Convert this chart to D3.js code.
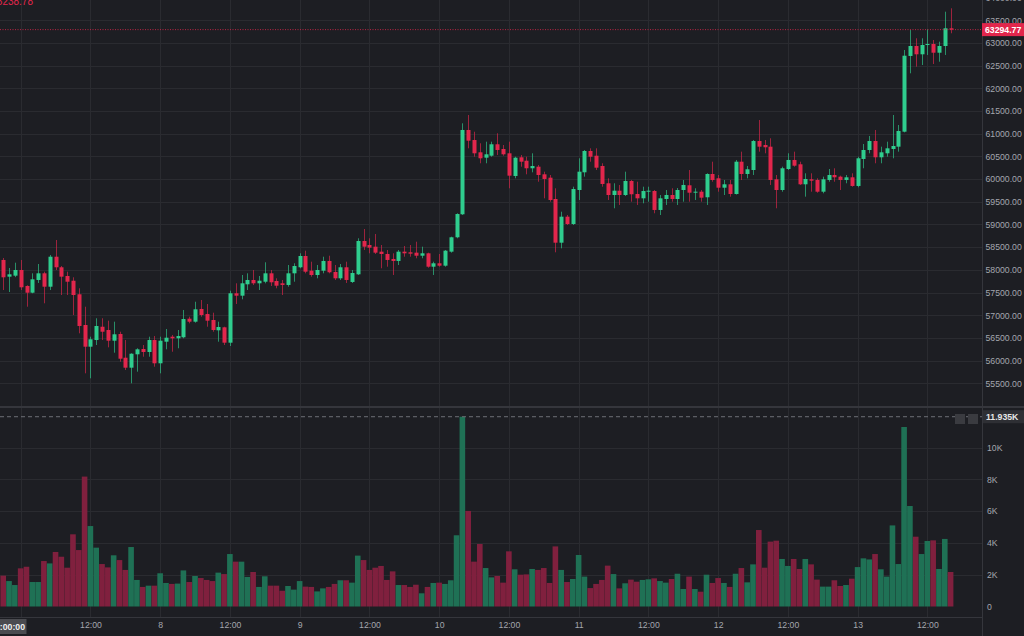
<!DOCTYPE html>
<html><head><meta charset="utf-8">
<script src="https://cdn.jsdelivr.net/npm/d3@7"></script>
<style>
html,body{margin:0;padding:0;background:#1d1e23;}
svg{display:block;font-family:"Liberation Sans",Arial,sans-serif;}
</style></head>
<body>
<svg id="chart" width="1024" height="636"></svg>
<script>
// ---------- DATA (BTC hourly, 6 Apr 2021 21:00 -> 13 Apr 2021 16:00) ----------
const startTime = "2021-04-06T21:00:00Z";
const open = [58218,57850,57872,57997,57645,57497,57777,57924,57629,58290,
58057,57865,57761,57462,56785,56307,56454,56747,56675,56439,
56587,56064,55844,56139,56256,56190,56454,55941,56417,56527,
56492,56514,56924,56858,57138,57027,56895,56668,56734,56395,
57484,57431,57682,57777,57704,57739,57924,57755,57704,57667,
57924,58057,58306,57982,57887,57982,58196,57953,57814,58057,
57733,57902,58636,58548,58511,58401,58350,58240,58196,58401,
58387,58379,58312,58365,58070,58145,58092,58401,58718,59225,
61083,60862,60591,60472,60516,60768,60664,60569,60069,60481,
60406,60239,60274,60106,60032,59562,58599,59172,59011,59760,
60150,60620,60516,60289,59908,59650,59745,59650,59959,59672,
59577,59723,59738,59320,59562,59650,59562,59760,59864,59701,
59723,59600,60113,60018,59811,59886,59672,60384,60113,60201,
60840,60752,60715,59996,59760,60223,60422,60327,59886,59996,
59981,59723,59981,60091,60054,59981,60040,59849,60444,60642,
60840,60481,60569,60664,60715,61045,62714,62934,62751,62956,
62978,62786,62934,63324];
const high = [58262,58041,58158,58218,57660,57924,58129,57960,58328,58658,
58085,57960,57836,57594,57188,56527,56933,56933,56880,56858,
56637,56454,56161,56272,56344,56527,56542,56527,56697,56565,
56675,57116,56968,57298,57336,57248,57056,56858,56747,57541,
57704,57887,57924,57997,57865,58167,57997,57814,57777,58107,
58145,58365,58423,58180,58107,58290,58312,58107,58129,58180,
57997,58696,58901,58696,58791,58548,58438,58365,58438,58526,
58548,58621,58511,58379,58180,58350,58438,58731,59247,61230,
61413,61045,60790,60825,60825,61010,60752,60825,60494,60532,
60494,60569,60311,60164,60091,59798,59282,59209,59833,60459,
60642,60679,60679,60349,60018,59908,59871,60164,59981,59943,
59833,59833,59760,59650,59760,59798,59804,59981,60201,59798,
59760,60128,60384,60091,59981,59981,60422,60605,60289,60862,
61303,60862,60900,60091,60274,60569,60605,60384,60128,60128,
60018,60054,60223,60239,60076,60091,60128,60494,60774,60951,
61083,60715,60825,61413,61193,62846,63287,63104,63104,63302,
63066,63029,63690,63765];
const low = [57556,57512,57840,57556,57188,57484,57711,57263,57556,57997,
57446,57446,57005,56602,55720,55610,56344,56454,56293,56174,
55976,55793,55500,55756,56086,56086,55866,55720,56249,56196,
56272,56492,56822,56836,56968,56747,56637,56417,56344,56322,
57248,57351,57556,57667,57556,57704,57645,57594,57446,57629,
57739,58035,57924,57850,57814,57924,57924,57777,57777,57711,
57711,57887,58438,58365,58350,58035,58070,57887,58107,58290,
58290,58255,58255,58048,57887,58070,58070,58379,58696,59210,
60679,60494,60349,60349,60494,60532,60516,59798,60018,60274,
60106,60150,59943,59577,59503,58387,58475,58989,58989,59540,
60054,60384,60201,59833,59540,59357,59430,59628,59503,59430,
59467,59503,59247,59209,59430,59503,59430,59503,59503,59540,
59503,59430,59943,59723,59650,59613,59660,59981,60018,60091,
60605,60569,59871,59357,59723,60201,60274,59871,59613,59723,
59700,59688,59943,59943,59760,59908,59833,59820,60239,60569,
60349,60349,60494,60459,60605,61030,62332,62478,62515,62736,
62537,62588,62736,63214];
const close = [57836,57902,57997,57616,57497,57792,57924,57629,58290,58057,
57850,57739,57446,56763,56307,56470,56763,56637,56439,56580,
56042,55844,56152,56249,56190,56454,55941,56439,56505,56492,
56542,56917,56858,57131,57005,56880,56675,56741,56395,57484,
57431,57704,57777,57704,57761,57924,57726,57651,57667,57924,
58085,58306,57960,57887,57997,58196,57947,57814,58057,57777,
57931,58636,58511,58489,58379,58350,58218,58196,58401,58365,
58357,58312,58365,58070,58145,58092,58423,58718,59231,61083,
60847,60569,60459,60547,60768,60642,60547,60076,60472,60384,
60239,60289,60091,60003,59540,58599,59172,59011,59782,60164,
60620,60494,60252,59893,59650,59745,59650,59959,59666,59577,
59738,59745,59320,59577,59650,59562,59760,59871,59701,59723,
59591,60113,59981,59811,59886,59672,60384,60113,60217,60840,
60715,60702,59981,59760,60239,60422,60296,59886,60003,59965,
59723,59996,60091,60040,59981,60040,59849,60459,60642,60840,
60481,60591,60679,60730,61061,62720,62934,62751,62956,62978,
62786,62934,63324,63294.77];
const volume = [1940,1600,1350,2400,2500,1540,1540,2860,2710,3430,
3130,2440,4540,3550,8170,5060,3700,2670,2460,3220,
2920,2300,3740,1670,1230,1310,1310,2090,1480,1420,
1440,2270,1540,1920,1790,1670,1600,2130,2040,3300,
2820,2820,1860,2170,1230,1900,1310,1310,990,1290,
1060,1600,1250,1230,950,1140,1230,1420,1650,1650,
1500,3200,2920,2300,2440,2550,1670,2210,1350,1350,
1230,1370,830,1230,1480,1500,1420,1650,4480,11935,
6010,2820,3930,2420,1830,1920,1500,3470,2340,2000,
2020,2360,2300,2420,1480,3780,2300,1540,1730,3240,
1880,1160,1420,1670,2570,2040,1140,1460,1690,1560,
1670,1710,1770,1600,1500,1730,2060,1100,1880,1100,
930,2000,1480,1790,1480,1230,2060,2420,1520,2650,
4810,2440,4080,4140,2990,2550,2990,2360,2990,2650,
1690,1250,1250,1650,1290,1350,1750,2480,3030,2960,
3300,2340,1880,5100,2670,11290,6320,4390,3300,4120,
4160,2360,4250,2170];
const priceTicks = [55500,56000,56500,57000,57500,58000,58500,59000,59500,60000,60500,61000,61500,62000,62500,63000,63500,64000];
const volumeTicks = [0,2000,4000,6000,8000,10000];
const lastPrice = 63294.77;
const maxVolume = 11935;
const legendText = "63238.78";
const crosshairTime = "06 Apr '21 05:00:00";

// ---------- LAYOUT ----------
const W = 1024, H = 636, plotR = 982, priceBottom = 406, plotBottom = 617;
const FS = 8.7;
const C = {bg:"#1d1e23", grid:"#2a2b30", up:"#2fcd8e", down:"#e2264c",
           upVol:"#1f7155", downVol:"#80203e", text:"#a4a7ae", sep:"#35363c"};

const svg = d3.select("#chart");
svg.append("rect").attr("width",W).attr("height",H).attr("fill",C.bg);

const times = open.map((_,i)=>d3.utcHour.offset(new Date(startTime), i));
const x = d3.scaleUtc()
  .domain([new Date("2021-04-07T00:00:00Z"), new Date("2021-04-13T12:00:00Z")])
  .range([20.7, 927.4]);
const yP = d3.scaleLinear().domain([55500,63000]).range([383.3,43]);
const yV = d3.scaleLinear().domain([0,10000]).range([606.5,447.5]);

const timeTicks = d3.utcHour.every(12).range(new Date("2021-04-07T00:00:00Z"), new Date("2021-04-13T12:00:01Z"));

// grid
const g = svg.append("g");
g.selectAll(".vg").data(timeTicks).join("line")
  .attr("x1",d=>Math.round(x(d))+0.5).attr("x2",d=>Math.round(x(d))+0.5)
  .attr("y1",0).attr("y2",plotBottom).attr("stroke",C.grid);
g.selectAll(".hg").data(priceTicks.filter(p=>yP(p)>0)).join("line")
  .attr("x1",0).attr("x2",plotR).attr("y1",d=>Math.round(yP(d))+0.5).attr("y2",d=>Math.round(yP(d))+0.5)
  .attr("stroke",C.grid);
g.selectAll(".vgh").data(volumeTicks.slice(1)).join("line")
  .attr("x1",0).attr("x2",plotR).attr("y1",d=>Math.round(yV(d))+0.5).attr("y2",d=>Math.round(yV(d))+0.5)
  .attr("stroke",C.grid);

// pane separators
svg.append("line").attr("x1",0).attr("x2",W).attr("y1",priceBottom+1).attr("y2",priceBottom+1).attr("stroke",C.sep).attr("stroke-width",2);
svg.append("line").attr("x1",plotR+0.5).attr("x2",plotR+0.5).attr("y1",0).attr("y2",H).attr("stroke",C.sep);
svg.append("line").attr("x1",0).attr("x2",plotR).attr("y1",plotBottom+0.5).attr("y2",plotBottom+0.5).attr("stroke",C.sep);

// volume bars
const data = times.map((t,i)=>({t,o:open[i],h:high[i],l:low[i],c:close[i],v:volume[i]}));
svg.append("g").selectAll("rect").data(data).join("rect")
  .attr("x",d=>x(d.t)-2.85).attr("width",5.6)
  .attr("y",d=>yV(d.v)).attr("height",d=>yV(0)-yV(d.v))
  .attr("fill",d=>d.c>=d.o?C.upVol:C.downVol);

// max volume dashed line
svg.append("line").attr("x1",0).attr("x2",plotR).attr("y1",yV(maxVolume)).attr("y2",yV(maxVolume))
  .attr("stroke","#6e7076").attr("stroke-dasharray","4,3");

// candles
const cg = svg.append("g");
cg.selectAll("line").data(data).join("line")
  .attr("x1",d=>Math.round(x(d.t))+0.5).attr("x2",d=>Math.round(x(d.t))+0.5)
  .attr("y1",d=>yP(d.h)).attr("y2",d=>yP(d.l))
  .attr("stroke",d=>d.c>=d.o?C.up:C.down).attr("stroke-opacity",0.65);
cg.selectAll("rect").data(data).join("rect")
  .attr("x",d=>Math.round(x(d.t))-1.5).attr("width",4)
  .attr("y",d=>yP(Math.max(d.o,d.c)))
  .attr("height",d=>Math.max(1,yP(Math.min(d.o,d.c))-yP(Math.max(d.o,d.c))))
  .attr("fill",d=>d.c>=d.o?C.up:C.down);

// last price line
svg.append("line").attr("x1",0).attr("x2",plotR).attr("y1",yP(lastPrice)).attr("y2",yP(lastPrice))
  .attr("stroke",C.down).attr("stroke-dasharray","1,1.5").attr("stroke-opacity",0.8);

// price axis
const pa = svg.append("g").attr("transform",`translate(${plotR},0)`)
  .call(d3.axisRight(yP).tickValues(priceTicks).tickSize(0).tickPadding(3.5).tickFormat(d3.format(".2f")));
pa.select(".domain").remove();
pa.selectAll("text").attr("fill",C.text).attr("font-size",FS).attr("font-family","Liberation Sans, Arial, sans-serif");

// volume axis
const va = svg.append("g").attr("transform",`translate(${plotR},0)`)
  .call(d3.axisRight(yV).tickValues(volumeTicks).tickSize(0).tickPadding(5).tickFormat(d=>d===0?"0":(d/1000)+"K"));
va.select(".domain").remove();
va.selectAll("text").attr("fill",C.text).attr("font-size",FS).attr("font-family","Liberation Sans, Arial, sans-serif");

// time axis (first midnight label is hidden under the crosshair label)
const ta = svg.append("g").attr("transform",`translate(0,${plotBottom})`)
  .call(d3.axisBottom(x).tickValues(timeTicks.slice(1)).tickSize(0).tickPadding(5)
    .tickFormat(d=>d.getUTCHours()===0?String(d.getUTCDate()):"12:00"));
ta.select(".domain").remove();
ta.selectAll("text").attr("fill",C.text).attr("font-size",FS).attr("font-family","Liberation Sans, Arial, sans-serif");

// last price label
svg.append("rect").attr("x",plotR).attr("y",yP(lastPrice)-6.5).attr("width",W-plotR).attr("height",13).attr("fill",C.down);
svg.append("text").attr("x",plotR+3).attr("y",yP(lastPrice)).attr("dy","0.35em")
  .attr("fill","#ffffff").attr("font-size",FS).attr("font-weight","bold").text(d3.format(".2f")(lastPrice));

// max volume label
svg.append("rect").attr("x",plotR+1).attr("y",yV(maxVolume)-6.5).attr("width",W-plotR-1).attr("height",13).attr("fill","#2e2f34");
svg.append("text").attr("x",plotR+4).attr("y",yV(maxVolume)).attr("dy","0.35em")
  .attr("fill","#e6e6e6").attr("font-size",FS).attr("font-weight","bold").text((maxVolume/1000).toFixed(3)+"K");

// small pane buttons
[955,968].forEach(bx=>{
  svg.append("rect").attr("x",bx).attr("y",414).attr("width",10).attr("height",10).attr("fill","#3a3b40");
});

// legend fragment (top-left, clipped)
svg.append("text").attr("x",33).attr("y",5).attr("text-anchor","end").attr("fill",C.down)
  .attr("font-size",10).text(legendText);

// crosshair time label (bottom-left, clipped)
svg.append("rect").attr("x",0).attr("y",619).attr("width",26.5).attr("height",15).attr("fill","#4a4b50");
svg.append("text").attr("x",25).attr("y",626.5).attr("dy","0.35em").attr("text-anchor","end")
  .attr("fill","#f0f0f0").attr("font-size",FS).attr("font-weight","bold").text(crosshairTime);
</script>
</body></html>
